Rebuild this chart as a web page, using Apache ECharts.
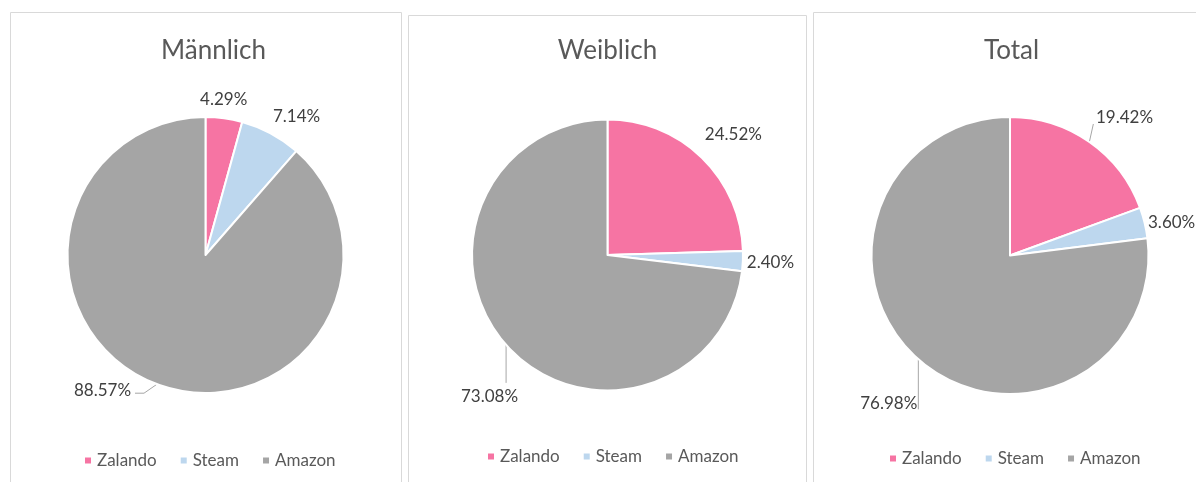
<!DOCTYPE html>
<html>
<head>
<meta charset="utf-8">
<title>Zalando / Steam / Amazon</title>
<script src="https://cdn.jsdelivr.net/npm/echarts@6/dist/echarts.min.js"></script>
<style>
  html, body { margin: 0; padding: 0; background: #fff; }
  #chart { width: 1196px; height: 482px; }
</style>
</head>
<body>
<div id="chart"></div>
<script>
// data
const categories = ['Zalando', 'Steam', 'Amazon']
const panelTitles = ['Männlich', 'Weiblich', 'Total']
const maleShare = [4.29, 7.14, 88.57]
const femaleShare = [24.52, 2.40, 73.08]
const totalShare = [19.42, 3.60, 76.98]
const shares = [maleShare, femaleShare, totalShare]

const palette = ['#F674A3', '#BDD7EE', '#A5A5A5']
const textColor = '#595959'
const font = 'Lato, "Open Sans", sans-serif'

// layout of the three panels (pixels)
const panels = [
  { cx: 205.5, cy: 255, r: 138, titleX: 213.5, legendX: 83, legendY: 452, box: [10.5, 12.5, 391, 490] },
  { cx: 607.5, cy: 255, r: 135.5, titleX: 607.5, legendX: 486, legendY: 448, box: [408.5, 15.5, 398, 490] },
  { cx: 1010, cy: 255.5, r: 138.5, titleX: 1011.5, legendX: 888, legendY: 450, box: [813.5, 12.5, 400, 490] },
]

// label nudges (Excel "best fit" placement), optional leader line relative to slice edge
const labelTweaks = [
  [{ dx: -29, dy: -19 }, { dx: -3, dy: -16.5 }, { dx: -21, dy: 6, line: [[0, 0], [-13, 9], [-22, 9]] }],
  [{ dx: -2, dy: -23 }, { dx: -1, dy: 1 }, { dx: 17, dy: 52, line: [[0, 0], [0, 38]] }],
  [{ dx: 1.6, dy: -24, line: [[0, 0], [4, -18]] }, { dx: -1.6, dy: 0 }, { dx: 4, dy: 44, line: [[0, 0], [0, 50]] }],
]

const chart = echarts.init(document.getElementById('chart'))

const option = {
  animation: false,
  color: palette,
  title: panels.map((p, i) => ({
    text: panelTitles[i],
    left: p.titleX,
    top: 38,
    textAlign: 'center',
    padding: 0,
    textStyle: { fontFamily: font, fontSize: 26, fontWeight: 'normal', color: textColor }
  })),
  legend: panels.map(p => ({
    data: categories,
    left: p.legendX,
    top: p.legendY,
    padding: 0,
    icon: 'rect',
    itemWidth: 8,
    itemHeight: 8,
    itemGap: 22,
    selectedMode: false,
    textStyle: { fontFamily: font, fontSize: 17, color: textColor, lineHeight: 16 }
  })),
  graphic: panels.map(p => ({
    type: 'rect',
    silent: true,
    shape: { x: p.box[0], y: p.box[1], width: p.box[2], height: p.box[3] },
    style: { fill: 'none', stroke: '#D9D9D9', lineWidth: 1 }
  })),
  series: panels.map((p, si) => ({
    type: 'pie',
    center: [p.cx, p.cy],
    radius: [0, p.r],
    startAngle: 90,
    clockwise: true,
    avoidLabelOverlap: false,
    emphasis: { disabled: true },
    itemStyle: { borderColor: '#fff', borderWidth: 2 },
    label: {
      show: true,
      position: 'outside',
      formatter: d => d.value.toFixed(2) + '%',
      fontFamily: font,
      fontSize: 17,
      color: '#404040'
    },
    labelLine: { length: 0, length2: 0, lineStyle: { color: '#A6A6A6', width: 1 } },
    labelLayout: params => {
      const t = labelTweaks[si][params.dataIndex]
      const r = params.labelRect
      const out = { x: r.x + t.dx, y: r.y + t.dy, align: 'left', verticalAlign: 'top' }
      if (t.line && params.labelLinePoints) {
        const p0 = params.labelLinePoints[0]
        out.labelLinePoints = t.line.map(o => [p0[0] + o[0], p0[1] + o[1]])
      }
      return out
    },
    data: categories.map((name, i) => ({
      name,
      value: shares[si][i],
      labelLine: { show: !!labelTweaks[si][i].line }
    }))
  }))
}

chart.setOption(option)
</script>
</body>
</html>
